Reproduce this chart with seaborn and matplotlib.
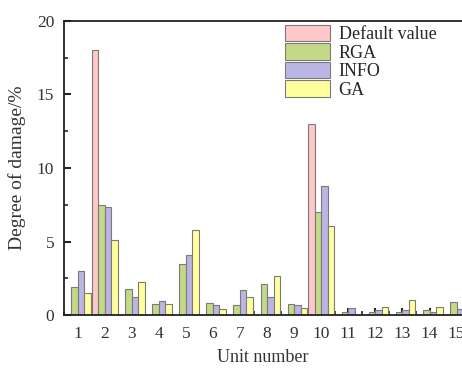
import numpy as np
import pandas as pd
import matplotlib
matplotlib.use("Agg")
import matplotlib.pyplot as plt
from matplotlib.ticker import FixedLocator, MultipleLocator
import seaborn as sns

units = [str(i) for i in range(1, 16)]
default_value = [0, 18.0, 0, 0, 0, 0, 0, 0, 0, 13.0, 0, 0, 0, 0, 0]
rga = [1.9, 7.45, 1.78, 0.74, 3.5, 0.84, 0.66, 2.1, 0.78, 7.03, 0.18, 0.23, 0.18, 0.34, 0.9]
info = [3.02, 7.38, 1.22, 0.92, 4.08, 0.68, 1.7, 1.25, 0.68, 8.8, 0.45, 0.34, 0.34, 0.2, 0.4]
ga = [1.5, 5.1, 2.27, 0.78, 5.76, 0.4, 1.25, 2.63, 0.45, 6.05, 0.0, 0.52, 1.0, 0.52, 2.0]
methods = ["Default value", "RGA", "INFO", "GA"]
colors = ["#FFC8C8", "#C3D987", "#BBB5E3", "#FFFF9E"]

df = pd.DataFrame({
    "unit": units * 4,
    "value": default_value + rga + info + ga,
    "method": np.repeat(methods, len(units)),
})

sns.set_theme(style="ticks")
plt.rcParams["font.family"] = ["Liberation Serif", "DejaVu Serif"]

fig = plt.figure(figsize=(4.62, 3.68), dpi=100)
ax = fig.add_axes([64 / 462, 1 - 315 / 368, 398 / 462, 294 / 368])

sns.barplot(data=df, x="unit", y="value", hue="method", order=units,
            hue_order=methods, palette=colors, width=0.96, errorbar=None,
            edgecolor="#7a7a7a", linewidth=0.8, saturation=1, ax=ax)

ax.set_xlim(-0.5, 14.2)
ax.set_ylim(0, 20)
ax.yaxis.set_major_locator(FixedLocator([0, 5, 10, 15, 20]))
ax.yaxis.set_minor_locator(MultipleLocator(2.5))
ax.xaxis.set_minor_locator(FixedLocator(np.arange(-0.5, 14.6, 1)))
ax.tick_params(axis="both", which="major", direction="in", length=5, width=1.5,
               labelsize=12.5, colors="#222222", pad=7)
ax.tick_params(axis="both", which="minor", direction="in", length=3, width=1.2)
ax.tick_params(axis="x", which="major", pad=8)
for lbl in ax.get_xticklabels() + ax.get_yticklabels():
    lbl.set_color("#333333")

for s in ["left", "bottom", "top"]:
    ax.spines[s].set_linewidth(1.3)
    ax.spines[s].set_color("#222222")
ax.spines["right"].set_visible(False)

ax.set_xlabel("Unit number", fontsize=13, color="#333333", labelpad=5)
ax.set_ylabel("Degree of damage/%", fontsize=14, color="#333333", labelpad=8)

ax.legend(loc="upper left", bbox_to_anchor=(0.556, 0.988), frameon=False,
          fontsize=13, handlelength=2.45, handleheight=1.05, labelspacing=0.0,
          handletextpad=0.5, borderpad=0, borderaxespad=0)

fig.savefig("out.png", dpi=100)
